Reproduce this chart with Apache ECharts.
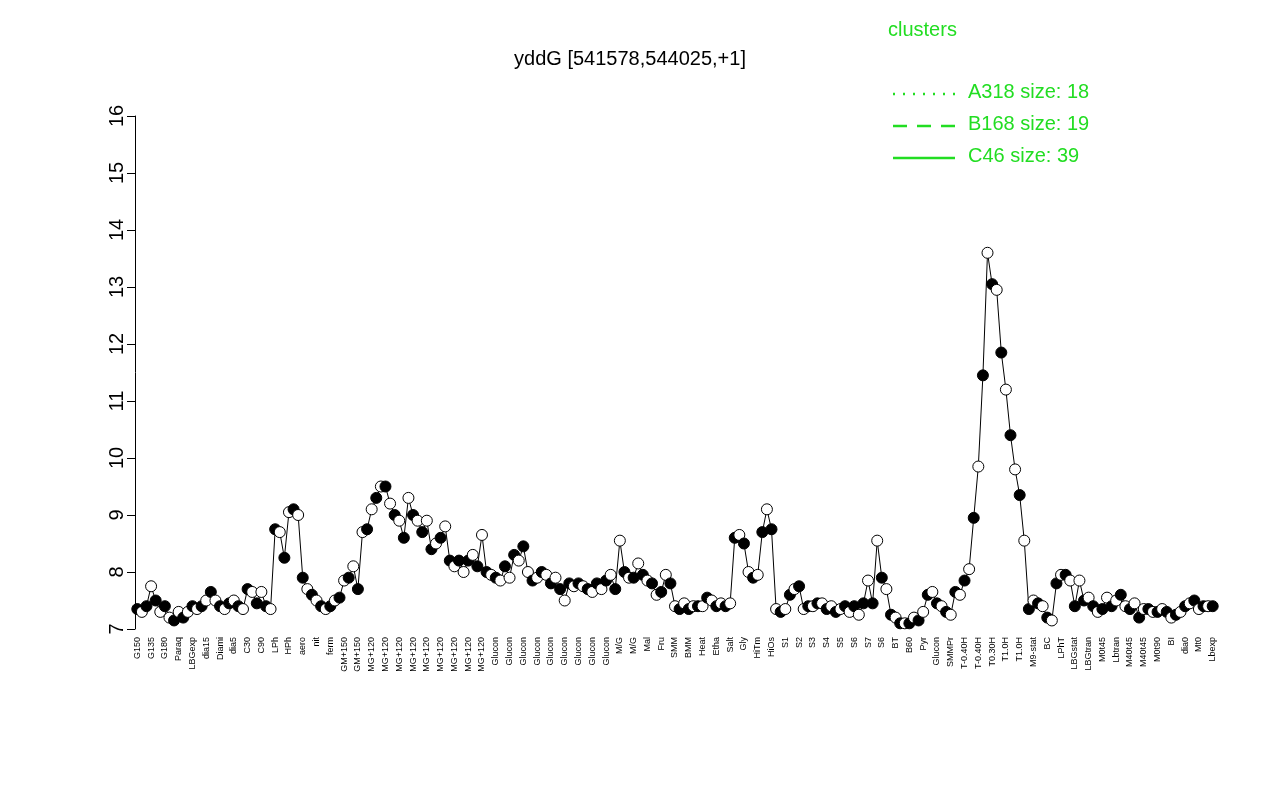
<!DOCTYPE html><html><head><meta charset="utf-8"><script src="https://cdn.jsdelivr.net/npm/echarts@6/dist/echarts.min.js"></script></head><body style="margin:0"><div id="c" style="width:1280px;height:800px"></div><script>
const groupNames=["G150","G135","G180","H2O2","Paraq","LBGexp","Oxctl","dia15","Diami","dia5","C30","C90","Cold","LPh","HPh","aero","nit","ferm","GM+150","MG+150","MG+120","Glucon","M/G","Mal","Fru","Glu","SMM","BMM","Heat","Etha","Salt","Gly","HiTm","HiOs","S1","S2","S3","S4","S5","S6","S7","S8","S6","BT","B36","B60","LoTm","Pyr","G/S","Glucon","SMMPr","T-0.40H","T0.30H","T1.0H","M9-stat","BC","LPhT","LBGstat","LBGtran","M0t45","Lbtran","M40t45","M0t90","Lbstat","BI","S0","dia0","Mt0","Lbexp"];
const groupValues=[[7.35,7.3],[7.4,7.75,7.5],[7.3,7.4],[7.2,7.15],[7.3,7.2],[7.3,7.4],[7.35,7.4],[7.5,7.65],[7.5,7.4,7.35],[7.45,7.5],[7.4,7.35,7.7],[7.65,7.45,7.65],[7.4,7.35],[8.75,8.7,8.25],[9.05,9.1,9.0],[7.9,7.7,7.6],[7.5,7.4,7.35],[7.4,7.5,7.55],[7.85,7.9,8.1,7.7],[8.7,8.75],[9.1,9.3,9.5,9.5,9.2,9.0,8.9,8.6,9.3,9.0,8.9,8.7,8.9,8.4,8.5,8.6,8.8,8.2,8.1,8.2,8.0,8.2,8.3,8.1,8.65,8.0,7.95],[7.9,7.85,8.1,7.9,8.3,8.2,8.45,8.0,7.85,7.9,8.0,7.95,7.8,7.9,7.7,7.5,7.8,7.75,7.8,7.75,7.7,7.65,7.8,7.7,7.85,7.95,7.7],[8.55,8.0,7.9,7.9],[8.15,7.95,7.85,7.8],[7.6,7.65],[7.95,7.8],[7.4,7.35,7.45],[7.35,7.4],[7.4,7.4],[7.55,7.5,7.4],[7.45,7.4,7.45],[8.6,8.65,8.5],[8.0,7.9,7.95],[8.7,9.1,8.75],[7.35,7.3,7.35],[7.6,7.7,7.75],[7.35,7.4,7.4,7.45],[7.45,7.35,7.4],[7.3,7.35],[7.4,7.3,7.4,7.25],[7.45,7.85,7.45],[8.55],[7.9,7.7],[7.25,7.2],[7.1,7.1],[7.1],[7.2,7.15],[7.3],[7.6,7.65],[7.45,7.4],[7.3,7.25],[7.65,7.6,7.85,8.05,8.95,9.85,11.45],[13.6,13.05,12.95,11.85],[11.2,10.4,9.8,9.35,8.55],[7.35,7.5,7.45],[7.4,7.2,7.15],[7.8,7.95,7.95],[7.85,7.4,7.85],[7.5,7.55],[7.4,7.3,7.35],[7.55,7.4,7.5,7.6],[7.4,7.35,7.45,7.2,7.35],[7.35,7.3,7.3],[7.35,7.3],[7.2],[7.25,7.3],[7.4,7.45,7.5],[7.35,7.4],[7.4,7.4]];
const legendNames=['A318 size: 18','B168 size: 19','C46 size: 39'];
const yTicks=[7,8,9,10,11,12,13,14,15,16];
const cats=[],vals=[];
groupNames.forEach((g,i)=>groupValues[i].forEach(v=>{cats.push(g);vals.push(v);}));
const G='#22dd22',F='Liberation Sans';
const dashes=[[2,8],[14,10],null];
const gr=[{type:'text',left:888,top:20,style:{text:'clusters',fill:G,fontSize:20,fontFamily:F}}];
legendNames.forEach((n,i)=>{const y=94+i*32;
gr.push({type:'line',shape:{x1:893,y1:y,x2:955,y2:y},style:{stroke:G,lineWidth:2.5,lineDash:dashes[i]}});
gr.push({type:'text',left:968,top:y-12,style:{text:n,fill:G,fontSize:20,fontFamily:F}});});
const ch=echarts.init(document.getElementById('c'));
ch.setOption({animation:false,
title:{text:'yddG [541578,544025,+1]',left:625,top:44,textAlign:'center',textStyle:{fontSize:20,fontWeight:'normal',color:'#000',fontFamily:F}},
graphic:gr,
grid:{left:135,right:65,top:116,bottom:171},
xAxis:{type:'category',data:cats,boundaryGap:true,axisLine:{show:false},axisTick:{show:false},axisLabel:{rotate:90,fontSize:9,interval:2,fontFamily:F,color:'#000'}},
yAxis:{type:'value',min:7,max:16,interval:1,splitLine:{show:false},axisLine:{show:true,lineStyle:{color:'#000'}},axisTick:{show:true,lineStyle:{color:'#000'},length:8},axisLabel:{rotate:90,fontSize:20,color:'#000',fontFamily:F,formatter:v=>yTicks.includes(v)?v:''}},
series:[{type:'line',data:vals,symbol:'circle',symbolSize:11,showAllSymbol:true,lineStyle:{color:'#000',width:1},itemStyle:{color:p=>p.dataIndex%2?'#fff':'#000',borderColor:'#000',borderWidth:1}}]});
</script></body></html>
